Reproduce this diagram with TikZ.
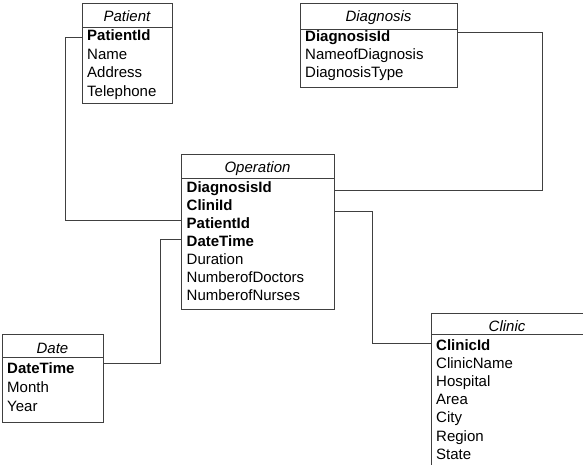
\documentclass[tikz,border=0pt]{standalone}
\usepackage{fontspec}
\setmainfont{Liberation Sans}
\begin{document}
\begin{tikzpicture}[x=1pt,y=-1pt,
  box/.style={draw=black!75, line width=0.9pt, inner sep=0pt, anchor=north west},
  sep/.style={draw=black!75, line width=0.9pt},
  ttl/.style={font=\fontsize{15}{17}\selectfont\itshape, anchor=base, inner sep=0pt},
  fld/.style={font=\fontsize{15}{17}\selectfont, anchor=base west, inner sep=0pt},
  key/.style={font=\fontsize{15}{17}\selectfont\bfseries, anchor=base west, inner sep=0pt},
  conn/.style={draw=black!75, line width=0.9pt}]
\useasboundingbox (0,0) rectangle (583,465);

% Patient
\node[box, minimum width=90pt, minimum height=100pt] (patient) at (82,3) {};
\draw[sep] (82,27) -- (172,27);
\node[ttl] (patientT) at (127,22) {Patient};
\node[key] (p1) at (87,41) {PatientId};
\node[fld] (p2) at (87,59.5) {Name};
\node[fld] (p3) at (87,78) {Address};
\node[fld] (p4) at (87,96.5) {Telephone};

% Diagnosis
\node[box, minimum width=157pt, minimum height=84pt] (diagnosis) at (300,3) {};
\draw[sep] (300,29) -- (457,29);
\node[ttl] (diagnosisT) at (378.5,22) {Diagnosis};
\node[key] (d1) at (305,41.5) {DiagnosisId};
\node[fld] (d2) at (305,59.5) {NameofDiagnosis};
\node[fld] (d3) at (305,77.5) {DiagnosisType};

% Operation
\node[box, minimum width=153pt, minimum height=155pt] (operation) at (181,154) {};
\draw[sep] (181,178) -- (334,178);
\node[ttl] (operationT) at (257.5,172) {Operation};
\node[key] (o1) at (186.5,192.5) {DiagnosisId};
\node[key] (o2) at (186.5,210.5) {CliniId};
\node[key] (o3) at (186.5,228.5) {PatientId};
\node[key] (o4) at (186.5,246.5) {DateTime};
\node[fld] (o5) at (186.5,264.5) {Duration};
\node[fld] (o6) at (186.5,282.5) {NumberofDoctors};
\node[fld] (o7) at (186.5,300.5) {NumberofNurses};

% Date
\node[box, minimum width=101pt, minimum height=88pt] (date) at (2,334) {};
\draw[sep] (2,357) -- (103,357);
\node[ttl] (dateT) at (52.5,353) {Date};
\node[key] (t1) at (7,373) {DateTime};
\node[fld] (t2) at (7,392) {Month};
\node[fld] (t3) at (7,411) {Year};

% Clinic
\node[box, minimum width=151.5pt, minimum height=151.5pt] (clinic) at (431,313) {};
\draw[sep] (431,334.5) -- (582.5,334.5);
\node[ttl] (clinicT) at (507,331.5) {Clinic};
\node[key] (c1) at (436,350) {ClinicId};
\node[fld] (c2) at (436,368.2) {ClinicName};
\node[fld] (c3) at (436,386.4) {Hospital};
\node[fld] (c4) at (436,404.6) {Area};
\node[fld] (c5) at (436,422.8) {City};
\node[fld] (c6) at (436,441) {Region};
\node[fld] (c7) at (436,459.2) {State};

% Connectors
\draw[conn] (patient.west |- 0,37) -- (65,37) |- (operation.west |- 0,220);
\draw[conn] (diagnosis.east |- 0,32) -- (542,32) |- (operation.east |- 0,190);
\draw[conn] (operation.east |- 0,211) -- (372,211) |- (clinic.west |- 0,343);
\draw[conn] (date.east |- 0,363) -- (160,363) |- (operation.west |- 0,239);
\end{tikzpicture}
\end{document}
